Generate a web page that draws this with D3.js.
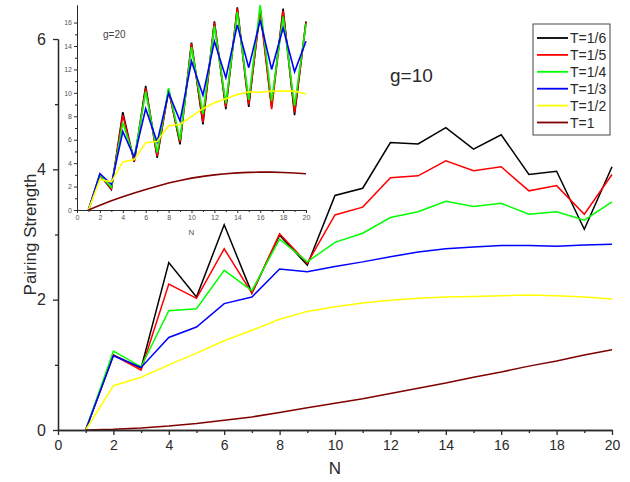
<!DOCTYPE html>
<html>
<head>
<style>
  body { margin: 0; background: #fff; }
  text { font-family: "Liberation Sans", Arial, sans-serif; }
</style>
</head>
<body>
<script src="https://cdnjs.cloudflare.com/ajax/libs/d3/7.8.5/d3.min.js"></script>
<script>

// N values shared by both panels
var nVals = d3.range(1, 21);

var seriesNames  = ["T=1/6", "T=1/5", "T=1/4", "T=1/3", "T=1/2", "T=1"];
var seriesColors = ["#000000", "#ff0000", "#00ff00", "#0000ff", "#ffff00", "#800000"];

// main panel, g=10
var g10_T6 = [0, 1.15, 0.95, 2.57, 2.04, 3.15, 2.10, 2.99, 2.53, 3.60, 3.71, 4.41, 4.39, 4.64, 4.31, 4.53, 3.92, 3.97, 3.08, 4.04];
var g10_T5 = [0, 1.15, 0.92, 2.24, 2.02, 2.78, 2.10, 3.01, 2.56, 3.30, 3.42, 3.87, 3.90, 4.13, 3.98, 4.04, 3.67, 3.75, 3.31, 3.92];
var g10_T4 = [0, 1.21, 0.97, 1.83, 1.86, 2.45, 2.14, 2.93, 2.58, 2.88, 3.02, 3.26, 3.35, 3.51, 3.43, 3.48, 3.31, 3.35, 3.22, 3.50];
var g10_T3 = [0, 1.14, 0.96, 1.42, 1.58, 1.94, 2.04, 2.47, 2.43, 2.51, 2.58, 2.66, 2.73, 2.78, 2.81, 2.83, 2.83, 2.82, 2.84, 2.85];
var g10_T2 = [0, 0.68, 0.81, 1.00, 1.18, 1.37, 1.53, 1.70, 1.82, 1.89, 1.95, 1.99, 2.02, 2.04, 2.05, 2.06, 2.07, 2.06, 2.04, 2.01];
var g10_T1 = [0, 0.01, 0.03, 0.06, 0.10, 0.15, 0.20, 0.27, 0.34, 0.41, 0.48, 0.56, 0.64, 0.72, 0.81, 0.89, 0.98, 1.06, 1.15, 1.23];

// inset, g=20
var g20_T6 = [0, 3.0, 1.75, 8.35, 4.1, 10.6, 4.45, 10.3, 5.6, 14.3, 7.3, 16.1, 8.6, 17.3, 8.8, 17.2, 8.8, 17.2, 8.1, 16.1];
var g20_T5 = [0, 2.95, 1.8, 8.1, 4.15, 10.4, 4.6, 10.2, 5.8, 14.2, 7.5, 16.0, 8.8, 17.2, 9.0, 17.0, 8.6, 17.0, 8.3, 16.0];
var g20_T4 = [0, 3.0, 1.95, 7.45, 4.4, 10.1, 4.9, 10.4, 6.0, 13.9, 8.2, 15.7, 9.1, 16.9, 9.4, 17.5, 9.3, 16.5, 8.9, 15.9];
var g20_T3 = [0, 3.1, 2.2, 6.7, 4.5, 8.65, 5.8, 10.0, 7.6, 12.7, 9.8, 14.4, 11.3, 15.8, 12.15, 16.2, 12.0, 15.55, 11.8, 14.4];
var g20_T2 = [0, 2.6, 2.4, 4.1, 4.3, 5.75, 5.85, 7.2, 7.3, 8.0, 8.65, 9.15, 9.5, 9.85, 10.1, 10.05, 10.15, 10.15, 10.15, 9.9];
var g20_T1 = [0, 0.4, 0.78, 1.13, 1.45, 1.75, 2.03, 2.3, 2.52, 2.72, 2.87, 3.0, 3.1, 3.17, 3.21, 3.23, 3.23, 3.2, 3.16, 3.1];

var mainSeries  = [g10_T6, g10_T5, g10_T4, g10_T3, g10_T2, g10_T1];
var insetSeries = [g20_T6, g20_T5, g20_T4, g20_T3, g20_T2, g20_T1];

var W = 630, H = 482;
var svg = d3.select("body").append("svg")
    .attr("width", W)
    .attr("height", H);

var textCol = "#2a2a2a";
var fmt = d3.format("d");

// draws a left+bottom axis pair with major/minor ticks
function drawAxes(g, x, y, xMajor, xMinor, yMajor, yMinor, opt) {
    var xa = g.append("g").attr("transform", "translate(0," + y.range()[0] + ")");
    xa.call(d3.axisBottom(x).tickValues(xMinor).tickSize(opt.minor).tickFormat("").tickSizeOuter(0));
    xa.append("g").attr("class", "xmaj")
        .call(d3.axisBottom(x).tickValues(xMajor).tickFormat(fmt).tickSize(opt.major).tickSizeOuter(0).tickPadding(opt.pad));
    var ya = g.append("g").attr("transform", "translate(" + x.range()[0] + ",0)");
    ya.call(d3.axisLeft(y).tickValues(yMinor).tickSize(opt.minor).tickFormat("").tickSizeOuter(0));
    ya.append("g").attr("class", "ymaj")
        .call(d3.axisLeft(y).tickValues(yMajor).tickFormat(fmt).tickSize(opt.major).tickSizeOuter(0).tickPadding(opt.pad));
    g.selectAll(".domain").attr("stroke", textCol).attr("stroke-width", opt.lw);
    g.selectAll(".tick line").attr("stroke", textCol).attr("stroke-width", opt.lw);
    g.selectAll(".tick text").attr("fill", opt.labelCol).style("font-size", opt.font + "px")
        .style("font-family", "'Liberation Sans', Arial, sans-serif");
}

function drawLines(g, x, y, data, lw) {
    var line = d3.line()
        .x(function(d, i) { return x(nVals[i]); })
        .y(function(d) { return y(d); });
    g.selectAll("path.series")
        .data(data)
        .enter().append("path")
        .attr("class", "series")
        .attr("d", line)
        .attr("fill", "none")
        .attr("stroke", function(d, i) { return seriesColors[i]; })
        .attr("stroke-width", lw)
        .attr("stroke-linejoin", "miter");
}

// ---------- main panel ----------
var x = d3.scaleLinear().domain([0, 20]).range([58, 612]);
var y = d3.scaleLinear().domain([0, 6]).range([430, 39]);

var main = svg.append("g");
drawLines(main, x, y, mainSeries, 1.5);
drawAxes(main, x, y,
    d3.range(0, 21, 2), d3.range(1, 20, 2),
    [0, 2, 4, 6], [1, 3, 5],
    {major: 5, minor: 3, pad: 5, lw: 1.3, font: 14, labelCol: textCol});
main.selectAll(".ymaj .tick text").style("font-size", "16px").attr("dx", "-2");

main.append("text")
    .attr("x", (x(0) + x(20)) / 2).attr("y", 474)
    .attr("text-anchor", "middle").attr("fill", textCol)
    .style("font-size", "17px").text("N");

main.append("text")
    .attr("transform", "translate(36," + y(3) + ") rotate(-90)")
    .attr("text-anchor", "middle").attr("fill", textCol)
    .style("font-size", "17px").text("Pairing Strength");

main.append("text")
    .attr("x", 390).attr("y", 82)
    .attr("fill", textCol)
    .style("font-size", "19px").text("g=10");

// ---------- inset ----------
var xi = d3.scaleLinear().domain([0, 20]).range([77, 306]);
var yi = d3.scaleLinear().domain([0, 17.5]).range([210, 5]);

var inset = svg.append("g");
drawLines(inset, xi, yi, insetSeries, 1.6);
drawAxes(inset, xi, yi,
    d3.range(0, 21, 2), d3.range(1, 20, 2),
    d3.range(0, 17, 2), d3.range(1, 17, 2),
    {major: 3, minor: 2, pad: 2, lw: 1, font: 7, labelCol: "#555"});

inset.append("text")
    .attr("x", (xi(0) + xi(20)) / 2).attr("y", 235)
    .attr("text-anchor", "middle").attr("fill", "#555")
    .style("font-size", "8px").text("N");

inset.append("text")
    .attr("x", 103).attr("y", 38)
    .attr("fill", "#444")
    .style("font-size", "10px").text("g=20");

// ---------- legend ----------
var legend = svg.append("g");
legend.append("rect")
    .attr("x", 533).attr("y", 24).attr("width", 77).attr("height", 111)
    .attr("fill", "#fff").attr("stroke", "#444").attr("stroke-width", 1);

var items = legend.selectAll("g.item")
    .data(seriesNames)
    .enter().append("g")
    .attr("class", "item")
    .attr("transform", function(d, i) { return "translate(0," + (38 + i * 16.9) + ")"; });

items.append("line")
    .attr("x1", 537).attr("x2", 568)
    .attr("stroke", function(d, i) { return seriesColors[i]; })
    .attr("stroke-width", 1.8);

items.append("text")
    .attr("x", 570).attr("y", 5)
    .attr("fill", textCol)
    .style("font-size", "14px")
    .text(function(d) { return d; });

</script>
</body>
</html>
